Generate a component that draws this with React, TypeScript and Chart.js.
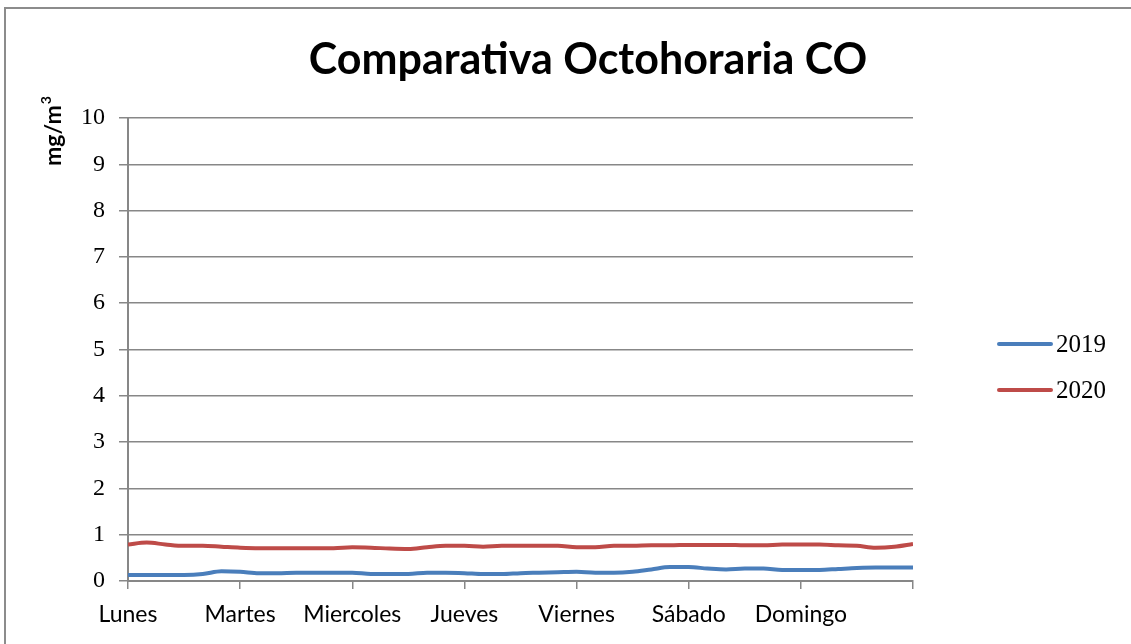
import React, { useEffect, useRef } from 'react';
import { Chart, registerables } from 'chart.js';

Chart.register(...registerables);

const TITLE = 'Comparativa Octohoraria CO';
const Y_TITLE = 'mg/m';
const Y_TITLE_SUP = '3';
const days = ['Lunes', 'Martes', 'Miercoles', 'Jueves', 'Viernes', 'Sábado', 'Domingo'];
const hours = [
  0, 4, 8, 12, 16, 20, 24, 28, 32, 36, 40, 44, 48, 52, 56, 60, 64, 68, 72, 76, 80, 84,
  88, 92, 96, 100, 104, 108, 112, 116, 120, 124, 128, 132, 136, 140, 144, 148, 152,
  156, 160, 164, 168,
];
const co2019 = [
  0.13, 0.13, 0.13, 0.13, 0.15, 0.21, 0.2, 0.17, 0.17, 0.18, 0.18, 0.18, 0.18, 0.15,
  0.15, 0.15, 0.18, 0.18, 0.17, 0.15, 0.15, 0.17, 0.18, 0.19, 0.2, 0.18, 0.18, 0.2,
  0.25, 0.3, 0.3, 0.27, 0.25, 0.27, 0.27, 0.24, 0.24, 0.24, 0.26, 0.28, 0.29, 0.29,
  0.29,
];
const co2020 = [
  0.79, 0.83, 0.79, 0.76, 0.76, 0.74, 0.72, 0.71, 0.71, 0.71, 0.71, 0.71, 0.73, 0.72,
  0.7, 0.69, 0.73, 0.76, 0.76, 0.74, 0.76, 0.76, 0.76, 0.76, 0.73, 0.73, 0.76, 0.76,
  0.77, 0.77, 0.78, 0.78, 0.78, 0.77, 0.77, 0.79, 0.79, 0.79, 0.77, 0.76, 0.72, 0.74,
  0.8,
];
const seriesNames = ['2019', '2020'];
const seriesColors = ['#4A7EBB', '#BE4B48'];
const yMin = 0;
const yMax = 10;
const yStep = 1;
const dayHours = 24;

const GRID = '#878787';

const extrasPlugin = {
  id: 'extras',
  afterDraw(chart: any) {
    const ctx = chart.ctx;
    ctx.save();
    // Title
    ctx.fillStyle = '#000';
    ctx.font = 'bold 43px Lato';
    ctx.textAlign = 'center';
    ctx.textBaseline = 'alphabetic';
    ctx.fillText(TITLE, 588, 74);

    // Y axis title (rotated)
    ctx.translate(61, 166);
    ctx.rotate(-Math.PI / 2);
    ctx.textAlign = 'left';
    ctx.font = 'bold 23px Lato';
    ctx.fillText(Y_TITLE, 0, 0);
    const w = ctx.measureText(Y_TITLE).width;
    ctx.font = 'bold 14px Lato';
    ctx.fillText(Y_TITLE_SUP, w + 1, -10);
    ctx.restore();

    // Legend
    ctx.save();
    const legendY = [344, 390];
    chart.data.datasets.forEach((ds: any, i: number) => {
      const y = legendY[i];
      ctx.strokeStyle = ds.borderColor;
      ctx.lineWidth = 4;
      ctx.lineCap = 'round';
      ctx.beginPath();
      ctx.moveTo(999, y);
      ctx.lineTo(1051, y);
      ctx.stroke();
      ctx.fillStyle = '#000';
      ctx.font = '25px "Liberation Serif"';
      ctx.textAlign = 'left';
      ctx.textBaseline = 'middle';
      ctx.fillText(ds.label, 1056, y + 1);
    });
    ctx.restore();
  },
};

export default function App() {
  const ref = useRef<HTMLCanvasElement>(null);
  useEffect(() => {
    if (!ref.current) return;
    const chart = new Chart(ref.current, {
      type: 'line',
      data: {
        datasets: [co2019, co2020].map((vals, i) => ({
          label: seriesNames[i],
          data: hours.map((h, j) => ({ x: h, y: vals[j] })),
          borderColor: seriesColors[i],
          backgroundColor: seriesColors[i],
          borderWidth: 4,
          pointRadius: 0,
          cubicInterpolationMode: 'monotone' as const,
          fill: false,
        })),
      },
      options: {
        responsive: false,
        animation: false,
        layout: { padding: { left: 0, top: 118, right: 218, bottom: 0 } },
        plugins: {
          legend: { display: false },
          title: { display: false },
          tooltip: { enabled: false },
        },
        scales: {
          x: {
            type: 'linear',
            min: 0,
            max: days.length * dayHours,
            afterBuildTicks: (scale: any) => {
              const t = [];
              for (let v = 0; v <= days.length * dayHours; v += dayHours) t.push({ value: v });
              scale.ticks = t;
            },
            afterFit: (scale: any) => {
              scale.height = 63;
            },
            ticks: {
              autoSkip: false,
              maxRotation: 0,
              padding: 12,
              color: '#000',
              font: { family: 'Lato', size: 23 },
              callback: (v: any) => days[Math.round(Number(v) / dayHours)] ?? '',
            },
            grid: {
              drawOnChartArea: false,
              drawTicks: true,
              tickLength: 8,
              color: GRID,
              lineWidth: 1.5,
            },
            border: { display: true, color: GRID, width: 2 },
          },
          y: {
            min: yMin,
            max: yMax,
            afterFit: (scale: any) => {
              scale.width = 128;
            },
            ticks: {
              stepSize: yStep,
              padding: 14,
              color: '#000',
              font: { family: '"Liberation Serif"', size: 24 },
            },
            grid: {
              color: GRID,
              lineWidth: 1.5,
              tickLength: 9,
            },
            border: { display: true, color: GRID, width: 2 },
          },
        },
      },
      plugins: [extrasPlugin],
    });
    return () => chart.destroy();
  }, []);

  return (
    <div style={{ position: 'absolute', left: 0, top: 0, width: 1131, height: 644, background: '#fff' }}>
      <div
        style={{
          position: 'absolute',
          left: 4,
          top: 7,
          width: 1127,
          height: 637,
          borderTop: '2px solid #8c8c8c',
          borderLeft: '2px solid #8c8c8c',
          boxSizing: 'border-box',
        }}
      />
      <canvas ref={ref} width={1131} height={644} style={{ position: 'absolute', left: 0, top: 0 }} />
    </div>
  );
}
